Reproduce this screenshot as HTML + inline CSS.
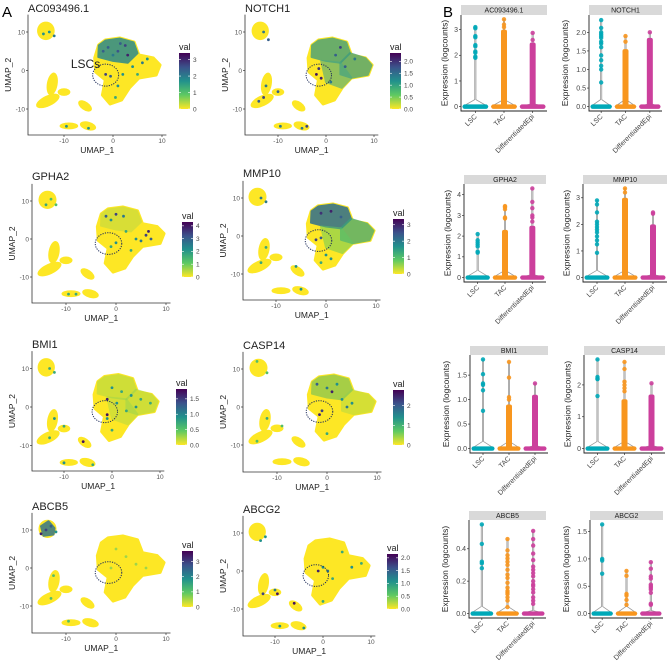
<!DOCTYPE html>
<html><head><meta charset="utf-8">
<style>
html,body{margin:0;padding:0;background:#fff;}
svg{display:block;font-family:"Liberation Sans","DejaVu Sans",sans-serif;}
</style></head>
<body>
<svg id="fig" width="669" height="664" viewBox="0 0 669 664">
<defs>
<linearGradient id="vir" x1="0" y1="1" x2="0" y2="0">
<stop offset="0" stop-color="#fde725"/><stop offset="0.25" stop-color="#5ec962"/><stop offset="0.5" stop-color="#21918c"/><stop offset="0.75" stop-color="#3b528b"/><stop offset="1" stop-color="#440154"/>
</linearGradient>
</defs>
<text x="2" y="17" font-size="15">A</text>
<text x="443" y="17" font-size="15">B</text>
</svg>
<script>
// ---------- UMAP data ----------
const umapGenes = ["AC093496.1","NOTCH1","GPHA2","MMP10","BMI1","CASP14","ABCB5","ABCG2"];
const cbTicks = [[0,1,2,3],[0,0.5,1,1.5,2],[0,1,2,3,4],[0,1,2,3],[0,0.5,1,1.5],[0,1,2],[0,1,2,3],[0,0.5,1,1.5,2]];
const cbTickLabels = [["0","1","2","3"],["0.0","0.5","1.0","1.5","2.0"],["0","1","2","3","4"],["0","1","2","3"],["0.0","0.5","1.0","1.5"],["0","1","2"],["0","1","2","3"],["0.0","0.5","1.0","1.5","2.0"]];
const cbMax = [3.4,2.35,4.3,3.35,1.82,2.8,3.7,2.15];
const clusterEllipses = [[-13.7,10.3,1.8,2.4,0],[-12.4,-3.5,1.1,3.0,10],[-10,-5.6,1.3,1.0,0],[-13.3,-7.9,2.6,1.4,-25],[-5.7,-9.2,1.6,1.1,35],[-9,-14.4,1.9,0.9,0],[-5.1,-14.4,1.7,1.1,15]];
const mainBlob = [[-2.94,6.62],[-1.57,7.92],[1.37,8.44],[4.31,7.4],[5.29,4.03],[8.24,3.25],[9.61,1.43],[8.82,-1.17],[5.29,-1.95],[3.33,-4.55],[1.76,-7.66],[-0.59,-8.7],[-2.16,-6.36],[-1.57,-2.47],[-3.53,-0.39],[-3.73,3.25]];
const regions = {
  top:[[-2.9,6.5],[-1.5,7.8],[1.4,8.3],[4.2,7.3],[5,4.5],[3,2],[0,2.5],[-3,3.5]],
  right:[[3,2],[5,4.5],[8.2,3.2],[9.5,1.4],[8.7,-1.1],[5.3,-1.9],[3,-1]],
  mid:[[-1,2.5],[3,2],[5.3,-1.9],[3.3,-4.5],[0,-3]],
  tl:[[-15,11],[-13.5,12.3],[-12.3,10.5],[-12.5,8.8],[-14.5,8.5]]
};
const overlays = [
 [["top","#2c8a8a",0.85]],
 [["top","#3a9a80",0.75],["right","#3a9a80",0.7],["mid","#4aa882",0.6]],
 [["top","#6cc56a",0.25]],
 [["top","#2f6e8e",0.85],["right","#3aa37a",0.7],["mid","#5ec962",0.5]],
 [["top","#7ccf5a",0.35],["right","#7ccf5a",0.35],["mid","#7ccf5a",0.3]],
 [["top","#3fb070",0.45],["right","#7ccf5a",0.3]],
 [["tl","#2a6f8e",0.8]],
 []
];
const genePoints = [
 [[-1,6,.7],[1,5,.75],[2.5,6.5,.8],[0,4,.6],[3,4,.9],[-2,5,.7],[1.5,7,.7],[4,1,.5],[6,2,.6],[2,-1,.5],[5,-1,.4],[1,-4,.5],[0.5,-7,.4],[7,3,.5],[-1.5,-1,.8],[-0.5,-1.5,.7],[-13,10,.5],[-12,9,.6],[-14.2,9.5,.5],[-9.5,-14.5,.5],[-5,-15,.5]],
 [[-2,-1,.95],[-1,-2,.9],[-1.5,0.5,.85],[2,4,.7],[4,1,.7],[6,3,.6],[1,-3,.6],[3,6,.8],[-13,10,.6],[-12,8,.7],[-13,-7,.8],[-14,-8,.7],[-12.5,-4,.6],[-10,-5.5,.7],[-9.5,-14.5,.6],[-5,-15,.6],[-4,-14.5,.8]],
 [[-2,6,.7],[0,6.5,.8],[1.5,6,.6],[-1,5,.5],[2,2,.4],[4,0,.5],[6,1,.8],[7,0,.7],[5,-0.5,.6],[0,-1,.5],[-1,-2,.4],[3,-3,.4],[6.5,2,.9],[-14,9,.4],[-13,10.5,.3],[-12,9,.3],[-8,-14.5,.4],[-9.5,-14.5,.4]],
 [[-1,6,.85],[1,6.5,.9],[3,5,.7],[-2,-1,.8],[-1,-0.5,.7],[0,-5,.5],[-1,-7,.4],[1,-6,.5],[-13,10,.6],[-12,9,.6],[-12,-3,.4],[-13,-7,.4],[-6,-8,.5],[-5,-14,.5]],
 [[0,5,.5],[2,4,.4],[4,3,.5],[6,2,.4],[8,1,.4],[1,1,.5],[3,-1,.4],[5,0,.5],[-1,-3,.5],[0,-6,.4],[-1,2,.9],[-1,-2,.95],[-13,10,.4],[-12,9,.4],[-12,-3,.5],[-13,-8,.4],[-10,-5,.4],[-6,-9,.95],[-10,-14.5,.5],[-4,-15,.4]],
 [[-2,6,.7],[0,5,.6],[1,4,.9],[2,6,.5],[3,2,.5],[4,0,.6],[5,1,.5],[-1,-1,.8],[-1.5,-2,.9],[0,-7,.4],[-12,-3,.4],[-14,-9,.3],[-9,-5,.3],[-14,12,.3],[-12,9,.3]],
 [[-14,10,.8],[-13,11,.7],[-15,9,.9],[-12,9.5,.5],[-13,-8,.3],[-12.5,-2,.3],[-9.5,-14,.3],[0,5,.15],[2,3,.15],[4,1,.15],[-1,0,.15],[6,0,.15]],
 [[-1,0,.9],[0,1,.5],[1,0,.6],[2,-2,.4],[4,5,.4],[6,1,.5],[8,2,.4],[-12.5,-6,.8],[-10,-5,.6],[-9.5,-6,.95],[-6,-8.5,.95],[-13,8,.5],[-12,9,.5],[-9,-14.5,.5],[-4,-15,.5],[0,-8,.4]]
];
// ---------- violin data ----------
const vGenes = ["AC093496.1","NOTCH1","GPHA2","MMP10","BMI1","CASP14","ABCB5","ABCG2"];
const groups = ["LSC","TAC","DifferentiatedEpi"];
const vTop = [3.4,2.35,4.3,3.35,1.82,2.8,0.55,1.63];
const vTicks = [[0,1,2,3],[0,0.5,1,1.5,2],[0,1,2,3,4],[0,1,2,3],[0,0.5,1,1.5],[0,1,2],[0,0.2,0.4],[0,0.5,1,1.5]];
const vTickLabels = [["0","1","2","3"],["0.0","0.5","1.0","1.5","2.0"],["0","1","2","3","4"],["0","1","2","3"],["0.0","0.5","1.0","1.5"],["0","1","2"],["0.0","0.2","0.4"],["0.0","0.5","1.0","1.5"]];
const lscPts = [[3.1,3.05,2.75,2.7,2.4,2.35,2.15,2.1,1.95,1.9],[2.33,2.12,2.0,1.95,1.9,1.85,1.75,1.7,1.6,1.38,1.25,1.1,1.0,0.65],[2.1,1.8,1.7,1.6,1.5,1.25,1.2],[2.9,2.75,2.45,2.1,2.0,1.9,1.8,1.7,1.55,1.4,1.25,0.93],[1.82,1.52,1.33,1.3,1.19,0.77],[2.8,2.25,2.2,2.18,1.65],[0.55,0.43,0.32,0.31,0.28],[1.63,1.0,0.97,0.73]];
const tacPts = [[3.4,3.2,3.1],[1.9,1.75],[3.45,3.4,3.3,2.9,2.85],[3.35,3.2],[1.77,1.45,1.05,1.0],[2.72,2.5,2.1,2.0,1.9,1.8],[0.46,0.39,0.36,0.34,0.32,0.3,0.27,0.24,0.22,0.19,0.16,0.14,0.13,0.12,0.1,0.08,0.04],[0.78,0.69,0.36,0.33,0.25,0.16]];
const diffPts = [[2.87,2.6],[2.0],[4.3,3.65,3.35,3.0,2.9,2.7],[2.45,2.4],[1.33],[2.05],[0.51,0.46,0.42,0.37,0.33,0.29,0.27,0.25,0.23,0.2,0.18,0.17,0.15,0.13,0.1,0.08,0.06],[0.94,0.82,0.68,0.64,0.53,0.5,0.47,0.44,0.38,0.18,0.16]];
const tacDense = [3.0,1.55,2.3,3.0,0.9,1.55,0,0];
const diffDense = [2.5,1.85,2.5,2.0,1.1,1.7,0,0];

// ---------- layout ----------
const umapLayout = [
 {ox:113,sx:4.9,oy:70.5,sy:3.85,L:28,B:135,tx:28,ty:12,cbx:179,cbt:53,cbb:109},
 {ox:326,sx:4.8,oy:70.5,sy:3.85,L:245,B:135,tx:245,ty:12,cbx:390,cbt:53,cbb:109},
 {ox:116,sx:5.0,oy:239,sy:3.8,L:32,B:303,tx:32,ty:180,cbx:182,cbt:222,cbb:277},
 {ox:326,sx:5.0,oy:236,sy:3.8,L:243,B:300,tx:243,ty:177,cbx:393,cbt:219,cbb:274},
 {ox:112,sx:4.8,oy:407,sy:3.85,L:32,B:471,tx:32,ty:348,cbx:176,cbt:389,cbb:445},
 {ox:327,sx:5.0,oy:407,sy:3.8,L:243,B:472,tx:243,ty:349,cbx:393,cbt:390,cbb:445},
 {ox:116,sx:5.0,oy:568,sy:3.8,L:32,B:633,tx:32,ty:510,cbx:182,cbt:551,cbb:607},
 {ox:323,sx:4.8,oy:571,sy:3.8,L:243,B:636,tx:243,ty:513,cbx:387,cbt:554,cbb:609}
];
const vLayout = [
 {L:461,R:547,st:5,sb:15,B:111},{L:589,R:662,st:5,sb:15,B:111},
 {L:464,R:546,st:175,sb:184,B:282},{L:583,R:667,st:175,sb:184,B:282},
 {L:470,R:548,st:346,sb:355,B:453},{L:584,R:665,st:346,sb:355,B:453},
 {L:469,R:546,st:511,sb:520,B:618},{L:590,R:663,st:511,sb:520,B:618}
];
const groupColors = ["#00a9b8","#f8961e","#cc3f9c"];

const NS="http://www.w3.org/2000/svg";
const svg=document.getElementById('fig');
function mk(tag,attrs,parent,txt){const e=document.createElementNS(NS,tag);for(const k in attrs)e.setAttribute(k,attrs[k]);if(txt!==undefined)e.textContent=txt;(parent||svg).appendChild(e);return e;}
function vir(t){const s=[[253,231,37],[94,201,98],[33,145,140],[59,82,139],[68,1,84]];t=Math.max(0,Math.min(1,t))*4;const i=Math.min(3,Math.floor(t)),f=t-i;return 'rgb('+s[i].map((c,j)=>Math.round(c+(s[i+1][j]-c)*f)).join(',')+')';}

// ---------- UMAP panels ----------
umapGenes.forEach((g,i)=>{
  const P=umapLayout[i];
  const X=v=>P.ox+v*P.sx, Y=v=>P.oy-v*P.sy;
  const grp=mk('g',{});
  
  
  const t=mk('text',{x:P.tx,y:P.ty,'font-size':11,fill:'#222'},grp,g);
  
  
  clusterEllipses.forEach(c=>{
    const e=mk('ellipse',{cx:X(c[0]),cy:Y(c[1]),rx:c[2]*P.sx,ry:c[3]*P.sy,fill:'#fde725',transform:'rotate('+c[4]+' '+X(c[0])+' '+Y(c[1])+')'},grp);
    
    
  });
  const mb=mk('polygon',{points:mainBlob.map(p=>X(p[0])+','+Y(p[1])).join(' '),fill:'#fde725','stroke':'#fde725','stroke-width':3,'stroke-linejoin':'round'},grp);
  
  
  overlays[i].forEach(o=>{
    const r=mk('polygon',{points:regions[o[0]].map(p=>X(p[0])+','+Y(p[1])).join(' '),fill:o[1],opacity:o[2],'stroke':o[1],'stroke-width':2,'stroke-linejoin':'round'},grp);
    
    
  });
  genePoints[i].forEach(p=>{
    const c=mk('circle',{cx:X(p[0]),cy:Y(p[1]),r:1.4,fill:vir(p[2])},grp);
    
    
  });
  const lc=mk('ellipse',{cx:X(-1.5),cy:Y(-1.2),rx:2.65*P.sx,ry:2.85*P.sy,fill:'none',stroke:'#1f2d5a','stroke-width':1,'stroke-dasharray':'1.2,1.2'},grp);
  
  
  if(i===0){const lt=mk('text',{x:X(-8.6),y:Y(0.7),'font-size':12,fill:'#222'},grp,'LSCs');
    
    }
  const top=Y(14.5), right=X(10.9);
  const ax=mk('path',{d:'M'+P.L+','+top+'V'+P.B+'H'+right,fill:'none',stroke:'#333','stroke-width':0.8},grp);
  
  
  [-10,0,10].forEach(v=>{
    mk('line',{x1:X(v),x2:X(v),y1:P.B,y2:P.B+2,stroke:'#333','stroke-width':0.7},grp);
    const tl=mk('text',{x:X(v),y:P.B+8,'font-size':6.5,fill:'#555','text-anchor':'middle'},grp,String(v));
    
    
    mk('line',{x1:P.L-2,x2:P.L,y1:Y(v),y2:Y(v),stroke:'#333','stroke-width':0.7},grp);
    const yl=mk('text',{x:P.L-3,y:Y(v)+2.3,'font-size':6.5,fill:'#555','text-anchor':'end'},grp,String(v));
    
    
  });
  const xt=mk('text',{x:(P.L+right)/2,y:P.B+18,'font-size':8.5,fill:'#222','text-anchor':'middle'},grp,'UMAP_1');
  
  
  const yx=P.L-17, yy=(top+P.B)/2;
  const yt=mk('text',{x:yx,y:yy,'font-size':8.5,fill:'#222','text-anchor':'middle',transform:'rotate(-90 '+yx+' '+yy+')'},grp,'UMAP_2');
  
  
  const vt=mk('text',{x:P.cbx,y:P.cbt-3,'font-size':9,fill:'#222'},grp,'val');
  
  
  const cb=mk('rect',{x:P.cbx,y:P.cbt,width:11,height:P.cbb-P.cbt,fill:'url(#vir)'},grp);
  
  
  cbTicks[i].forEach((v,k)=>{
    const yy2=P.cbb-(v/cbMax[i])*(P.cbb-P.cbt);
    mk('line',{x1:P.cbx,x2:P.cbx+2,y1:yy2,y2:yy2,stroke:'#fff','stroke-width':0.6},grp);
    mk('line',{x1:P.cbx+9,x2:P.cbx+11,y1:yy2,y2:yy2,stroke:'#fff','stroke-width':0.6},grp);
    const cl=mk('text',{x:P.cbx+14,y:yy2+2.3,'font-size':6.5,fill:'#444'},grp,cbTickLabels[i][k]);
    
    
  });
});

// ---------- violin panels ----------
vGenes.forEach((g,i)=>{
  const P=vLayout[i];
  const top=vTop[i];
  const Y=v=>P.B-(v+0.05*top)/(1.1*top)*(P.B-P.sb);
  const w=(P.R-P.L)/3;
  const X=k=>P.L+(k+0.5)*w;
  const grp=mk('g',{});
  
  
  const st=mk('rect',{x:P.L,y:P.st,width:P.R-P.L,height:P.sb-P.st,fill:'#d9d9d9'},grp);
  
  
  const stt=mk('text',{x:(P.L+P.R)/2,y:(P.st+P.sb)/2+2.5,'font-size':7,fill:'#222','text-anchor':'middle'},grp,g);
  
  
  const y0=Y(0);
  const sets=[lscPts[i],tacPts[i],diffPts[i]];
  const dens=[0,tacDense[i],diffDense[i]];
  groups.forEach((gr,k)=>{
    const cx=X(k), hw=w/2-1.5, col=groupColors[k];
    const allMax=Math.max(dens[k],...sets[k],0);
    const bump=k===2?3:7;
    const vo=mk('path',{d:'M'+(cx-hw)+','+y0+'L'+(cx-0.6)+','+(y0-bump)+'L'+(cx-0.6)+','+Y(allMax)+'L'+(cx+0.6)+','+Y(allMax)+'L'+(cx+0.6)+','+(y0-bump)+'L'+(cx+hw)+','+y0,fill:'none',stroke:'#999','stroke-width':0.8},grp);
    
    
    const band=mk('rect',{x:cx-hw,y:y0-2.2,width:2*hw,height:4.4,rx:2.2,fill:col},grp);
    
    
    if(dens[k]>0){
      const db=mk('rect',{x:cx-3,y:Y(dens[k]),width:6,height:y0-Y(dens[k]),rx:2,fill:col},grp);
      
      
    }
    sets[k].forEach(v=>{
      const c=mk('circle',{cx:cx,cy:Y(v),r:2.2,fill:col,opacity:0.9},grp);
      
      
    });
    mk('line',{x1:cx,x2:cx,y1:P.B,y2:P.B+2,stroke:'#333','stroke-width':0.7},grp);
    const tx=cx+2, ty=P.B+6;
    const lb=mk('text',{x:tx,y:ty,'font-size':7,fill:'#444','text-anchor':'end',transform:'rotate(-45 '+tx+' '+ty+')'},grp,gr);
    
    
  });
  const ax=mk('path',{d:'M'+P.L+','+P.sb+'V'+P.B+'H'+P.R,fill:'none',stroke:'#222','stroke-width':0.9},grp);
  
  
  let maxLen=1;
  vTicks[i].forEach((v,k)=>{
    mk('line',{x1:P.L-2,x2:P.L,y1:Y(v),y2:Y(v),stroke:'#333','stroke-width':0.7},grp);
    const lab=vTickLabels[i][k]; maxLen=Math.max(maxLen,lab.length);
    const tl=mk('text',{x:P.L-3,y:Y(v)+2.4,'font-size':7,fill:'#444','text-anchor':'end'},grp,lab);
    
    
  });
  const lx=P.L-10-maxLen*3.6, ly=(P.sb+P.B)/2;
  const yl=mk('text',{x:lx,y:ly,'font-size':8.5,fill:'#222','text-anchor':'middle',transform:'rotate(-90 '+lx+' '+ly+')'},grp,'Expression (logcounts)');
  
  
});
</script>
</body></html>
